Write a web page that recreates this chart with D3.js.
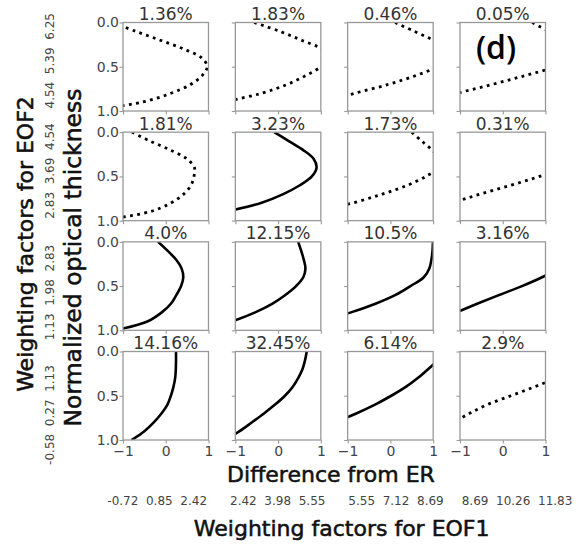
<!DOCTYPE html>
<html><head><meta charset="utf-8">
<script src="https://cdn.jsdelivr.net/npm/d3@7"></script>
<style>html,body{margin:0;padding:0;background:#fff;}</style>
</head><body>
<script>
// ---- data ----
const depth = [0, 0.1, 0.2, 0.3, 0.4, 0.5, 0.6, 0.7, 0.8, 0.9, 1.0];
// difference from ER at each normalized optical thickness (rows: EOF2 high->low, cols: EOF1 low->high)
const d00 = [-1.25, -0.70, -0.13, 0.42, 0.84, 0.97, 0.85, 0.58, 0.12, -0.55, -1.9];
const d01 = [-0.56, 0.04, 0.55, 1.02, 1.2, 1.0, 0.65, 0.21, -0.39, -1.3, -2.4];
const d02 = [0.11, 0.56, 1.0, 1.35, 1.4, 1.1, 0.59, -0.05, -0.84, -1.6, -2.4];
const d03 = [0.69, 1.08, 1.5, 1.8, 1.8, 1.25, 0.52, -0.25, -1.08, -1.9, -2.7];
const d10 = [-0.79, -0.37, 0.10, 0.49, 0.67, 0.66, 0.59, 0.42, 0.12, -0.38, -1.6];
const d11 = [-0.09, 0.25, 0.58, 0.83, 0.90, 0.79, 0.51, 0.12, -0.40, -1.23, -2.2];
const d12 = [0.50, 0.73, 0.97, 1.15, 1.12, 0.83, 0.40, -0.19, -0.88, -1.7, -2.5];
const d13 = [3.0, 2.8, 2.4, 2.0, 1.5, 0.86, 0.19, -0.53, -1.2, -1.9, -2.6];
const d20 = [-0.18, 0.04, 0.24, 0.37, 0.41, 0.36, 0.25, 0.12, -0.10, -0.43, -1.2];
const d21 = [0.47, 0.54, 0.60, 0.64, 0.59, 0.42, 0.17, -0.14, -0.55, -1.08, -1.8];
const d22 = [0.995, 0.985, 0.96, 0.91, 0.78, 0.47, 0.12, -0.35, -0.94, -1.7, -2.5];
const d23 = [2.5, 2.1, 1.7, 1.32, 0.92, 0.45, -0.08, -0.60, -1.1, -1.6, -2.1];
const d30 = [0.24, 0.24, 0.235, 0.22, 0.18, 0.12, 0.04, -0.10, -0.28, -0.50, -0.80];
const d31 = [0.67, 0.63, 0.57, 0.47, 0.34, 0.16, -0.07, -0.33, -0.61, -0.90, -1.25];
const d32 = [1.35, 1.12, 0.88, 0.64, 0.36, 0.02, -0.36, -0.80, -1.3, -1.85, -2.4];
const d33 = [2.5, 2.1, 1.7, 1.25, 0.74, 0.19, -0.36, -0.78, -1.15, -1.55, -2.0];
const panelSeries = [d00, d01, d02, d03, d10, d11, d12, d13, d20, d21, d22, d23, d30, d31, d32, d33];
const percentLabels = ["1.36", "1.83", "0.46", "0.05", "1.81", "3.23", "1.73", "0.31",
                       "4.0", "12.15", "10.5", "3.16", "14.16", "32.45", "6.14", "2.9"];
const eof1Ticks = [[-0.72, 0.85, 2.42], [2.42, 3.98, 5.55], [5.55, 7.12, 8.69], [8.69, 10.26, 11.83]];
const eof2Ticks = [[4.54, 5.39, 6.25], [2.83, 3.69, 4.54], [1.13, 1.98, 2.83], [-0.58, 0.27, 1.13]];
const xTicks = [-1, 0, 1];
const yTicks = [0, 0.5, 1];

// ---- layout ----
const W = 578, H = 546;
const pw = 85.5, ph = 88.5;
const colX = d3.scaleLinear().domain([0, 3]).range([123, 460]);
const rowY = d3.scaleLinear().domain([0, 3]).range([22.5, 351.5]);
const eof1Start = [107.3, 230, 348.3, 461.7];
const eof2Center = [60.8, 171, 292.5, 415];

const svg = d3.select("body").append("svg")
  .attr("width", W).attr("height", H)
  .style("font-family", "'DejaVu Sans', sans-serif");

const x = d3.scaleLinear().domain([-1, 1]).range([0, pw]);
const y = d3.scaleLinear().domain([0, 1]).range([0, ph]);
const line = d3.line()
  .x(d => x(d[1])).y(d => y(d[0]))
  .curve(d3.curveCatmullRom.alpha(0.5));

panelSeries.forEach((vals, i) => {
  const r = Math.floor(i / 4), c = i % 4;
  const g = svg.append("g").attr("transform", `translate(${colX(c)},${rowY(r)})`);
  const clipId = "clip" + i;
  g.append("clipPath").attr("id", clipId).append("rect")
    .attr("x", 0).attr("y", 0).attr("width", pw).attr("height", ph);

  const pts = depth.map((dv, k) => [dv, vals[k]]);
  const pct = +percentLabels[i];
  const path = g.append("path")
    .attr("clip-path", `url(#${clipId})`)
    .attr("d", line(pts))
    .attr("fill", "none").attr("stroke", "#000");
  if (pct < 3) {
    path.attr("stroke-width", 2.8).attr("stroke-dasharray", "2.8 4.4");
  } else {
    path.attr("stroke-width", 2.6).attr("stroke-linejoin", "round");
  }

  // axes
  const ay = g.append("g").call(
    d3.axisLeft(y).tickValues(yTicks).tickSize(3.5).tickPadding(0.5)
      .tickFormat(c === 0 ? d3.format(".1f") : () => ""));
  const ax = g.append("g").attr("transform", `translate(0,${ph})`).call(
    d3.axisBottom(x).tickValues(xTicks).tickSize(3.5).tickPadding(2.5)
      .tickFormat(r === 3 ? (d => (d < 0 ? "\u2212" + Math.abs(d) : String(d))) : () => ""));
  [ax, ay].forEach(a => {
    a.select(".domain").remove();
    a.selectAll("line").attr("stroke", "#999").attr("stroke-width", 1.1);
    a.selectAll("text").attr("fill", "#444").style("font-size", "14px")
      .style("font-family", "'DejaVu Sans', sans-serif");
  });

  g.append("rect").attr("x", 0).attr("y", 0).attr("width", pw).attr("height", ph)
    .attr("fill", "none").attr("stroke", "#999").attr("stroke-width", 1.3);

  g.append("text").attr("x", pw / 2).attr("y", -2.5)
    .attr("text-anchor", "middle").attr("fill", "#333")
    .style("font-size", "17px").text(percentLabels[i] + "%");
});

// EOF1 value strings
eof1Ticks.forEach((arr, c) => {
  svg.append("text").attr("x", eof1Start[c]).attr("y", 505)
    .attr("fill", "#444").style("font-size", "12px").style("white-space", "pre")
    .text(arr.map(v => v.toFixed(2)).join("  "));
});
// EOF2 value strings (rotated)
eof2Ticks.forEach((arr, r) => {
  svg.append("text").attr("transform", `translate(53.5,${eof2Center[r]}) rotate(-90)`)
    .attr("text-anchor", "middle")
    .attr("fill", "#444").style("font-size", "12px").style("white-space", "pre")
    .text(arr.map(v => v.toFixed(2)).join("  "));
});

// axis titles
function title(sel) {
  return sel.attr("text-anchor", "middle").attr("fill", "#111")
    .attr("stroke", "#111").attr("stroke-width", 0.55);
}
title(svg.append("text").attr("x", 331).attr("y", 481.5))
  .style("font-size", "22px").text("Difference from ER");
title(svg.append("text").attr("x", 341.7).attr("y", 536))
  .style("font-size", "22px").text("Weighting factors for EOF1");
title(svg.append("text").attr("transform", "translate(33,244) rotate(-90)"))
  .style("font-size", "22px").text("Weighting factors for EOF2");
title(svg.append("text").attr("transform", "translate(81,257.5) rotate(-90)"))
  .style("font-size", "23.5px").text("Normalized optical thickness");

// panel tag
svg.append("text").attr("x", 496).attr("y", 59).attr("text-anchor", "middle")
  .attr("fill", "#000").style("font-family", "'Open Sans', sans-serif")
  .style("font-weight", 600).style("font-size", "32px").text("(d)");
</script>
</body></html>
